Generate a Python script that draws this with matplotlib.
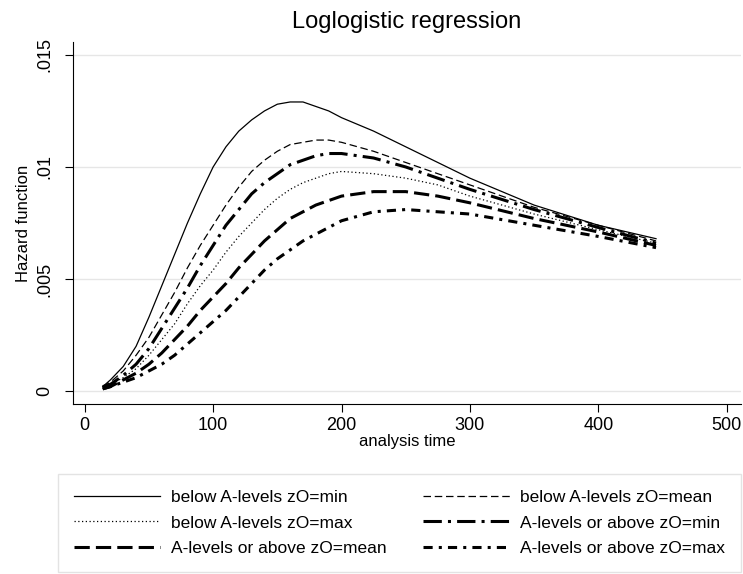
import matplotlib
matplotlib.use('Agg')
from matplotlib import pyplot as plt

# analysis time grid
t = [14, 20, 30, 40, 50, 60, 70, 80, 90, 100, 110, 120, 130, 140, 150, 160, 170, 180, 190, 200,
     225, 250, 275, 300, 350, 400, 445]

below_min = [0.0002, 0.0005, 0.0011, 0.0020, 0.0033, 0.0047, 0.0061, 0.0075, 0.0088, 0.0100,
             0.0109, 0.0116, 0.0121, 0.0125, 0.0128, 0.0129, 0.0129, 0.0127, 0.0125, 0.0122,
             0.0116, 0.0109, 0.0102, 0.0095, 0.0083, 0.0074, 0.0068]
below_mean = [0.0002, 0.0004, 0.0009, 0.0016, 0.0024, 0.0034, 0.0044, 0.0055, 0.0065, 0.0074,
              0.0083, 0.0091, 0.0098, 0.0103, 0.0107, 0.0110, 0.0111, 0.0112, 0.0112, 0.0111,
              0.0107, 0.0102, 0.0097, 0.0092, 0.0082, 0.0074, 0.0067]
below_max = [0.0001, 0.0003, 0.0006, 0.0010, 0.0016, 0.0023, 0.0030, 0.0039, 0.0047, 0.0054,
             0.0062, 0.0069, 0.0075, 0.0081, 0.0086, 0.0090, 0.0093, 0.0095, 0.0097, 0.0098,
             0.0097, 0.0095, 0.0092, 0.0087, 0.0079, 0.0072, 0.0066]
above_min = [0.0002, 0.0003, 0.0007, 0.0012, 0.0019, 0.0028, 0.0037, 0.0046, 0.0056, 0.0065,
             0.0074, 0.0081, 0.0088, 0.0093, 0.0097, 0.0101, 0.0103, 0.0105, 0.0106, 0.0106,
             0.0104, 0.0100, 0.0095, 0.0090, 0.0081, 0.0073, 0.0066]
above_mean = [0.0001, 0.0002, 0.0005, 0.0008, 0.0012, 0.0017, 0.0023, 0.0029, 0.0036, 0.0042,
              0.0048, 0.0055, 0.0061, 0.0067, 0.0072, 0.0077, 0.0080, 0.0083, 0.0085, 0.0087,
              0.0089, 0.0089, 0.0087, 0.0084, 0.0077, 0.0071, 0.0065]
above_max = [0.0001, 0.0002, 0.0004, 0.0006, 0.0009, 0.0012, 0.0016, 0.0021, 0.0026, 0.0031,
             0.0036, 0.0042, 0.0048, 0.0054, 0.0059, 0.0063, 0.0067, 0.0070, 0.0073, 0.0076,
             0.0080, 0.0081, 0.0080, 0.0079, 0.0074, 0.0069, 0.0064]

xticks = [0, 100, 200, 300, 400, 500]
yticks = [0, 0.005, 0.01, 0.015]
ytick_labels = ['0', '.005', '.01', '.015']

plt.rcParams['font.family'] = ['Liberation Sans Narrow', 'Liberation Sans', 'DejaVu Sans']

fig = plt.figure(figsize=(7.43, 5.74), dpi=100)
ax = fig.add_axes([0.098, 0.296, 0.899, 0.631])

l1, = ax.plot(t, below_min, color='black', lw=0.9, ls='-')
l2, = ax.plot(t, below_mean, color='black', lw=0.9, ls=(0, (6, 3)))
l3, = ax.plot(t, below_max, color='black', lw=0.9, ls=(0, (1, 2)))
l4, = ax.plot(t, above_min, color='black', lw=2.2, ls=(0, (6, 2, 1, 2)))
l5, = ax.plot(t, above_mean, color='black', lw=2.2, ls=(0, (5, 2)))
l6, = ax.plot(t, above_max, color='black', lw=2.2, ls=(0, (3, 2, 1, 2)))

ax.set_xlim(-9.3, 511)
ax.set_ylim(-0.00058, 0.01558)
ax.set_xticks(xticks)
ax.set_yticks(yticks)
ax.set_yticklabels(ytick_labels, rotation=90, va='center')
ax.tick_params(labelsize=13, direction='out', length=6)
ax.tick_params(axis='y', pad=8)
ax.grid(axis='y', color='#e6e6e6', lw=1)
ax.set_axisbelow(True)
for s in ['top', 'right']:
    ax.spines[s].set_visible(False)
ax.set_xlabel('analysis time', fontsize=12, labelpad=0)
ax.set_ylabel('Hazard function', fontsize=12, labelpad=4)
ax.set_title('Loglogistic regression', fontsize=17, pad=10)

handles = [l1, l3, l5, l2, l4, l6]
labels = ['below A-levels zO=min', 'below A-levels zO=max', 'A-levels or above zO=mean',
          'below A-levels zO=mean', 'A-levels or above zO=min', 'A-levels or above zO=max']
fig.legend(handles, labels, ncol=2, loc='lower left', bbox_to_anchor=(0.078, 0.004, 0.919, 0.172),
           mode='expand', borderaxespad=0, fontsize=12.5, frameon=True, fancybox=False,
           edgecolor='#dddddd', handlelength=5, handletextpad=0.6, columnspacing=1.0,
           labelspacing=0.6, borderpad=0.9)

fig.savefig('out.png', dpi=100)
